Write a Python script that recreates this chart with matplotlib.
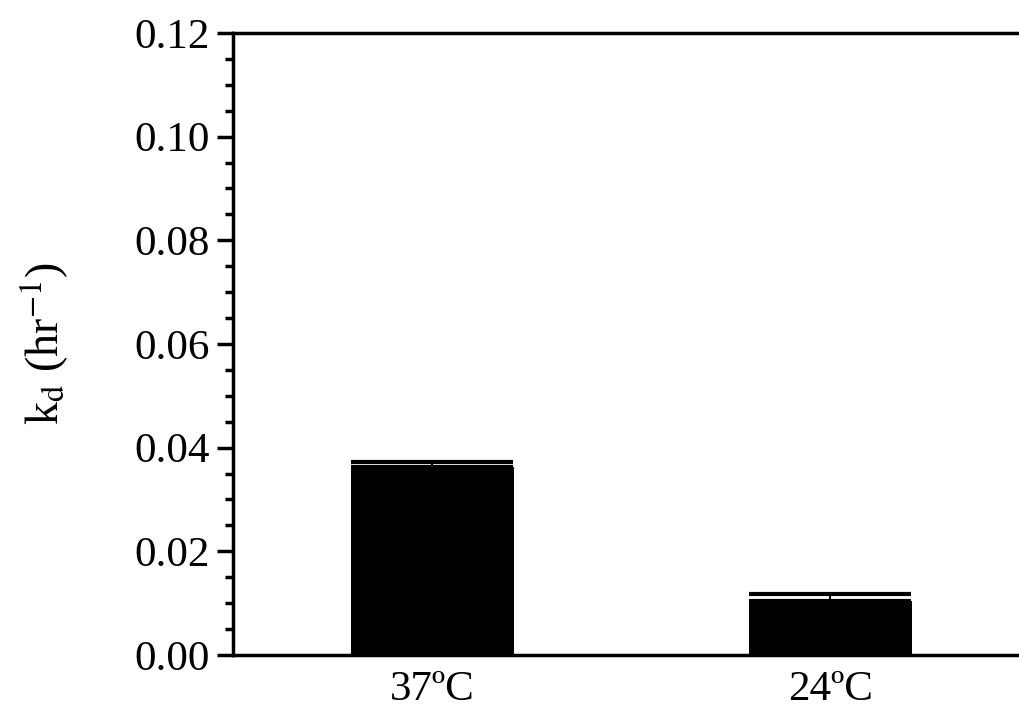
import matplotlib
matplotlib.use('Agg')
from matplotlib import pyplot as plt
from matplotlib.ticker import MultipleLocator, FormatStrFormatter

plt.rcParams['font.family'] = 'Liberation Serif'
plt.rcParams['mathtext.fontset'] = 'stix'

categories = ['37ºC', '24ºC']
kd_values = [0.0363, 0.0105]
kd_errors = [0.0010, 0.0013]

fig = plt.figure(figsize=(10.19, 7.11), dpi=100)
ax = fig.add_axes([0.2287, 0.0788, 0.7816, 0.8748])

x = range(len(categories))
ax.bar(x, kd_values, width=0.41, color='black', zorder=2)
ax.errorbar(x, kd_values, yerr=[[0] * len(kd_errors), kd_errors],
            fmt='none', ecolor='black', elinewidth=1.5, capsize=58,
            capthick=3, zorder=3)

ax.set_xlim(-0.5, 1.5)
ax.set_ylim(0, 0.12)
ax.set_xticks(list(x))
ax.set_xticklabels(categories, fontsize=31)
ax.yaxis.set_major_locator(MultipleLocator(0.02))
ax.yaxis.set_minor_locator(MultipleLocator(0.005))
ax.yaxis.set_major_formatter(FormatStrFormatter('%.2f'))
ax.tick_params(axis='y', which='major', length=11.5, width=2.5, labelsize=31,
               direction='out', pad=5)
ax.tick_params(axis='y', which='minor', length=6, width=2.5, direction='out')
ax.tick_params(axis='x', length=0, pad=11)

for side in ['left', 'top', 'bottom']:
    ax.spines[side].set_linewidth(2.5)
ax.spines['right'].set_visible(False)

ax.set_ylabel(r'k$_{\mathrm{d}}$ (hr$^{\mathrm{-1}}$)', fontsize=33, labelpad=46)

fig.savefig('out.png', dpi=100)
